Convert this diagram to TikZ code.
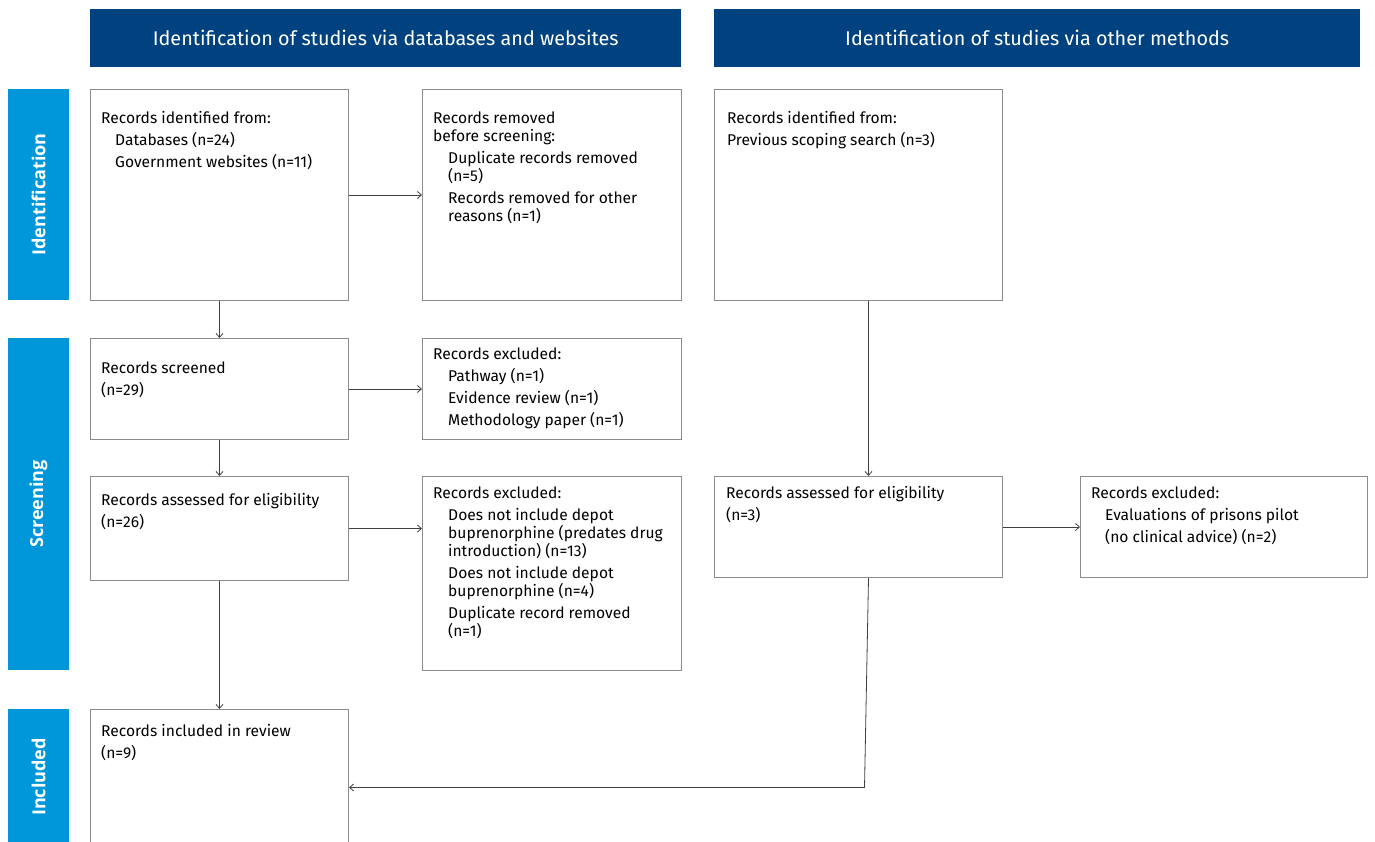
\documentclass[tikz,border=0pt]{standalone}
\usepackage{fontspec}
\setmainfont{Fira Sans}
\newfontfamily\sidefont{Open Sans}
\usetikzlibrary{arrows.meta}
\definecolor{hdrblue}{HTML}{00427F}
\definecolor{sideblue}{HTML}{0096DA}
\definecolor{bordgrey}{HTML}{8C8C8C}
\begin{document}
\begin{tikzpicture}[x=1pt,y=-1pt,
  hdrbox/.style={fill=hdrblue, draw=none, anchor=north west, inner sep=0, minimum height=58pt, text=white, font=\fontsize{19.8}{23}\selectfont},
  sidebar/.style={fill=sideblue, draw=none, rotate=90, inner sep=0, minimum height=61pt, text=white, font=\sidefont\bfseries\fontsize{18}{22}\selectfont},
  flowbox/.style={draw=bordgrey, line width=1pt, fill=white, anchor=north west, inner sep=0},
  txt/.style={anchor=north west, inner sep=0, align=left, font=\fontsize{15.6}{18}\selectfont},
  arr/.style={draw=black!75, line width=0.8pt, -{Straight Barb[length=4pt,width=7pt]}}
]
\clip (0,0) rectangle (1375,841);
\fill[white] (0,0) rectangle (1375,841);

% headers
\node[hdrbox, minimum width=591pt] (H1) at (90,9) {Identification of studies via databases and websites};
\node[hdrbox, minimum width=646pt] (H2) at (714,9) {Identification of studies via other methods};

% side bars
\node[sidebar, minimum width=211pt] (S1) at (38.5,194.5) {Identification};
\node[sidebar, minimum width=332pt] (S2) at (38.5,504) {Screening};
\node[sidebar, minimum width=136pt] (S3) at (38.5,777) {Included};

% boxes
\node[flowbox, minimum width=258pt, minimum height=211pt] (A) at (90,89) {};
\node[flowbox, minimum width=259pt, minimum height=211pt] (B) at (422,89) {};
\node[flowbox, minimum width=288pt, minimum height=211pt] (C) at (714,89) {};
\node[flowbox, minimum width=258pt, minimum height=101pt] (D) at (90,338) {};
\node[flowbox, minimum width=259pt, minimum height=101pt] (E) at (422,338) {};
\node[flowbox, minimum width=258pt, minimum height=104pt] (F) at (90,476) {};
\node[flowbox, minimum width=259pt, minimum height=194pt] (G) at (422,476) {};
\node[flowbox, minimum width=288pt, minimum height=101pt] (Hb) at (714,476) {};
\node[flowbox, minimum width=287pt, minimum height=101pt] (I) at (1080,476) {};
\node[flowbox, minimum width=258pt, minimum height=156pt] (J) at (90,709) {};

% texts
\node[txt] (At) at (101,111.5) {Records identified from:\\[4pt]
  \hspace*{14pt}Databases (n=24)\\[4pt]
  \hspace*{14pt}Government websites (n=11)};
\node[txt] (Bt) at (433,111.5) {Records removed\\
  before screening:\\[4pt]
  \hspace*{15pt}Duplicate records removed\\
  \hspace*{15pt}(n=5)\\[4pt]
  \hspace*{15pt}Records removed for other\\
  \hspace*{15pt}reasons (n=1)};
\node[txt] (Ct) at (727,111.5) {Records identified from:\\[4pt]
  Previous scoping search (n=3)};
\node[txt] (Dt) at (101,361.5) {Records screened\\[4pt]
  (n=29)};
\node[txt] (Et) at (433,347.5) {Records excluded:\\[4pt]
  \hspace*{15pt}Pathway (n=1)\\[4pt]
  \hspace*{15pt}Evidence review (n=1)\\[4pt]
  \hspace*{15pt}Methodology paper (n=1)};
\node[txt] (Ft) at (101,493.5) {Records assessed for eligibility\\[4pt]
  (n=26)};
\node[txt] (Gt) at (433,486.5) {Records excluded:\\[4pt]
  \hspace*{15pt}Does not include depot\\
  \hspace*{15pt}buprenorphine (predates drug\\
  \hspace*{15pt}introduction) (n=13)\\[4pt]
  \hspace*{15pt}Does not include depot\\
  \hspace*{15pt}buprenorphine (n=4)\\[4pt]
  \hspace*{15pt}Duplicate record removed\\
  \hspace*{15pt}(n=1)};
\node[txt] (Ht) at (726,486.5) {Records assessed for eligibility\\[4pt]
  (n=3)};
\node[txt] (It) at (1091,486.5) {Records excluded:\\[4pt]
  \hspace*{14pt}Evaluations of prisons pilot\\[4pt]
  \hspace*{14pt}(no clinical advice) (n=2)};
\node[txt] (Jt) at (101,724.5) {Records included in review\\[4pt]
  (n=9)};

% connectors
\draw[arr] (A.east) -- (A.east -| B.west);
\draw[arr] (A.south) -- (D.north);
\draw[arr] (D.east) -- (D.east -| E.west);
\draw[arr] (D.south) -- (F.north);
\draw[arr] (F.east) -- (F.east -| G.west);
\draw[arr] (F.south) -- (J.north);
\draw[arr] ([xshift=10pt]C.south) -- ([xshift=10pt]Hb.north);
\draw[arr] (Hb.east) -- (Hb.east -| I.west);
\draw[arr] ([xshift=10pt]Hb.south) -- ([xshift=6pt]Hb.south |- J.east) -- (J.east);
\end{tikzpicture}
\end{document}
